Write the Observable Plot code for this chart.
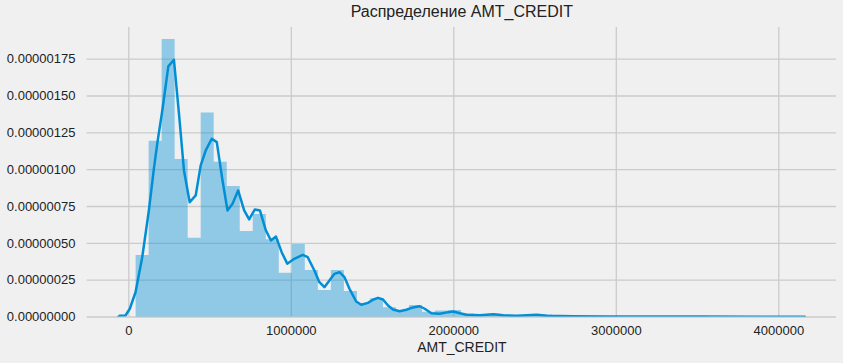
<!DOCTYPE html>
<html>
<head>
<meta charset="utf-8">
<script src="https://cdn.jsdelivr.net/npm/d3@7"></script>
<script src="https://cdn.jsdelivr.net/npm/@observablehq/plot@0.6"></script>
<style>
  html, body { margin: 0; padding: 0; background: #f0f0f0; }
</style>
</head>
<body>
<div id="chart"></div>
<script>
// ---- Data ----
const title = "Распределение AMT_CREDIT";
const xLabel = "AMT_CREDIT";
const xTicks = [0, 1000000, 2000000, 3000000, 4000000];
const yTicks = [0, 0.00000025, 0.0000005, 0.00000075, 0.000001, 0.00000125, 0.0000015, 0.00000175];

// histogram: 50 bins from data min to data max
const binMin = 45000;
const binMax = 4050000;
// bar heights (density, in units of 1e-6)
const histHeights = [
  0.418, 1.193, 1.884, 1.069, 0.535, 1.384, 1.051, 0.886, 0.580, 0.696,
  0.524, 0.297, 0.492, 0.316, 0.180, 0.316, 0.173, 0.090, 0.124, 0.062,
  0.044, 0.078, 0.033, 0.040, 0.044, 0.020, 0.012, 0.018, 0.012, 0.008,
  0.010, 0.014, 0.006, 0.005, 0.004, 0.003, 0.003, 0.002, 0.002, 0.001,
  0.001, 0.001, 0.001, 0.001, 0.0005, 0.0005, 0.0005, 0.0005, 0.0005, 0.0005
];

// KDE curve vertices (x in AMT_CREDIT, density in units of 1e-6)
const kdeX = [
  -65000, -55600, -20400, 6200, 41400, 82700, 123500, 154300, 175300, 206200,
  243200, 277800, 308600, 339500, 374700, 411700, 442600, 473500, 510500, 541400,
  576500, 607400, 638300, 672800, 709900, 740700, 775900, 806800, 843800, 874700,
  905600, 940700, 975000, 1018500, 1070400, 1101200, 1142000, 1172800, 1203700, 1234600,
  1265400, 1296300, 1327200, 1358000, 1399400, 1430200, 1471600, 1502500, 1533300, 1564200,
  1595100, 1626000, 1666700, 1708000, 1749400, 1790100, 1821000, 1862300, 1913600, 1965400,
  1996300, 2037000, 2078400, 2160500, 2243200, 2305000, 2387000, 2510500, 2572200, 2737000,
  2942600, 3500000, 4160000
];
const kdeY = [
  0.000, 0.008, 0.010, 0.056, 0.168, 0.406, 0.723, 1.006, 1.178, 1.402,
  1.701, 1.746, 1.382, 0.995, 0.779, 0.825, 1.029, 1.131, 1.210, 1.187,
  0.927, 0.723, 0.768, 0.859, 0.723, 0.662, 0.730, 0.723, 0.587, 0.519,
  0.546, 0.440, 0.362, 0.395, 0.422, 0.406, 0.316, 0.236, 0.202, 0.248,
  0.293, 0.304, 0.270, 0.191, 0.105, 0.083, 0.096, 0.117, 0.130, 0.119,
  0.078, 0.051, 0.039, 0.049, 0.065, 0.073, 0.056, 0.026, 0.022, 0.033,
  0.037, 0.026, 0.015, 0.012, 0.019, 0.012, 0.008, 0.015, 0.008, 0.005,
  0.004, 0.003, 0.002
];

// ---- Build tables ----
const binWidth = (binMax - binMin) / histHeights.length;
// one step polygon (no seams between adjacent bars)
const histSteps = histHeights.map((h, i) => ({x: binMin + i * binWidth, y: h * 1e-6}));
histSteps.push({x: binMax, y: histHeights[histHeights.length - 1] * 1e-6});
const kde = kdeX.map((x, i) => ({x, y: kdeY[i] * 1e-6}));

const gridStyle = {stroke: "#cbcbcb", strokeOpacity: 1, strokeWidth: 1.3};

const chart = Plot.plot({
  width: 843,
  height: 363,
  marginLeft: 86.7,
  marginRight: 7,
  marginTop: 27,
  marginBottom: 46.5,
  style: {
    background: "#f0f0f0",
    fontFamily: "'Liberation Sans', Arial, sans-serif",
    fontSize: "13px",
    color: "#222"
  },
  x: {domain: [-256000, 4355000]},
  y: {domain: [0, 1.965e-6]},
  marks: [
    Plot.gridX(xTicks, gridStyle),
    Plot.gridY(yTicks, gridStyle),
    Plot.areaY(histSteps, {x: "x", y1: 0, y2: "y", curve: "step-after", fill: "#008fd5", fillOpacity: 0.4}),
    Plot.line(kde, {x: "x", y: "y", stroke: "#008fd5", strokeWidth: 2.5, clip: true}),
    Plot.axisX(xTicks, {tickSize: 0, tickPadding: 9, tickFormat: d3.format("d"), label: null, fontSize: 13, fill: "#222"}),
    Plot.axisY(yTicks, {tickSize: 0, tickPadding: 11.7, tickFormat: d3.format(".8f"), label: null, fontSize: 13, fill: "#222"}),
    Plot.text([xLabel], {frameAnchor: "bottom", dy: 35, lineAnchor: "bottom", text: d => d, fontSize: 14, fill: "#222"}),
    Plot.text([title], {frameAnchor: "top", dy: -22, lineAnchor: "top", text: d => d, fontSize: 16, fill: "#222"})
  ]
});
document.getElementById("chart").append(chart);
</script>
</body>
</html>
